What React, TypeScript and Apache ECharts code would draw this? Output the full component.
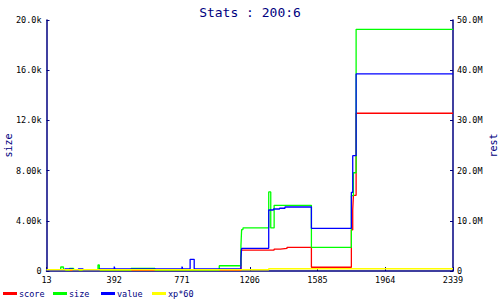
import React, { useEffect, useRef } from "react";
import * as echarts from "echarts";

// x positions are in tick-slot units (0..6); tick labels show the sample numbers
const xTickLabels = ["13", "392", "771", "1206", "1585", "1964", "2339"];
const leftTickLabels = ["0", "4.00k", "8.00k", "12.0k", "16.0k", "20.0k"];
const rightTickLabels = ["0", "10.0M", "20.0M", "30.0M", "40.0M", "50.0M"];

// size (left axis, units)
const sizeX = [0, 0.21, 0.25, 0.34, 0.40, 0.76, 0.78, 0.91, 0.96, 1.25, 1.60, 2.01, 2.28, 2.55, 2.87, 2.88, 2.90, 3.28, 3.31, 3.36, 3.91, 4.50, 4.53, 4.57, 6];
const sizeY = [80, 320, 80, 210, 80, 480, 80, 100, 80, 210, 80, 100, 80, 420, 2000, 3300, 3430, 6300, 3430, 5230, 1890, 6000, 7830, 19260, 19260];

// value (right axis, units)
const valueX = [0, 0.27, 0.39, 0.47, 0.54, 0.78, 1.0, 1.01, 2.0, 2.01, 2.12, 2.18, 2.87, 2.88, 3.28, 3.35, 3.44, 3.52, 3.91, 4.50, 4.52, 4.57, 6];
const valueY = [150000, 400000, 150000, 400000, 150000, 400000, 875000, 400000, 875000, 400000, 2325000, 400000, 2500000, 4525000, 12150000, 12350000, 12500000, 12750000, 8500000, 15675000, 22975000, 39250000, 39250000];

// score (right axis, units)
const scoreX = [0, 2.14, 2.18, 2.87, 3.36, 3.45, 3.55, 3.91, 4.50, 4.52, 4.53, 4.57, 6];
const scoreY = [150000, 250000, 150000, 4175000, 4375000, 4500000, 4725000, 750000, 8175000, 12150000, 15075000, 31425000, 31425000];

// xp*60 (right axis, units)
const xpX = [0, 3.28, 6];
const xpY = [250000, 450000, 450000];

const NAVY = "#000080";
const MONO = "'DejaVu Sans Mono', 'Liberation Mono', monospace";

const pairs = (xs: number[], ys: number[]) => xs.map((x, i) => [x, ys[i]]);

export default function App() {
  const ref = useRef<HTMLDivElement>(null);
  useEffect(() => {
    if (!ref.current) return;
    const chart = echarts.init(ref.current, undefined, { renderer: "svg" });
    const names = ["score", "size", "value", "xp*60"];
    const legendLefts = [3, 53, 101, 152];
    chart.setOption({
      animation: false,
      backgroundColor: "#ffffff",
      title: {
        text: "Stats : 200:6",
        left: "center",
        top: 1,
        textStyle: { color: NAVY, fontSize: 13, fontWeight: "normal", fontFamily: MONO },
      },
      legend: names.map((n, i) => ({
        data: [n],
        left: legendLefts[i],
        top: 289,
        padding: 0,
        itemWidth: 14,
        itemHeight: 3,
        icon: "rect",
        textStyle: { color: NAVY, fontSize: 8.5, fontFamily: MONO, padding: [0, 0, 0, -3] },
      })),
      grid: { left: 46.5, right: 47, top: 20, bottom: 29, containLabel: false, outerBoundsMode: "none" },
      xAxis: {
        type: "value",
        min: 0,
        max: 6,
        interval: 1,
        splitLine: { show: false },
        axisLine: { lineStyle: { color: NAVY, width: 1.5 } },
        axisTick: { inside: true, length: 4, lineStyle: { color: NAVY } },
        axisLabel: {
          color: "#000",
          fontSize: 8.5,
          fontFamily: MONO,
          margin: 4,
          showMinLabel: true,
          showMaxLabel: true,
          formatter: (v: number) => xTickLabels[Math.round(v)] ?? "",
        },
      },
      yAxis: [
        {
          type: "value",
          min: 0,
          max: 20000,
          interval: 4000,
          name: "size",
          nameLocation: "middle",
          nameGap: 33,
          nameMoveOverlap: false,
          nameTextStyle: { color: NAVY, fontSize: 10, fontFamily: MONO },
          splitLine: { show: false },
          axisLine: { show: true, lineStyle: { color: NAVY, width: 1.5 } },
          axisTick: { show: true, inside: true, length: 3, lineStyle: { color: NAVY } },
          axisLabel: {
            color: "#000",
            fontSize: 8.5,
            fontFamily: MONO,
            margin: 5,
            formatter: (v: number) => leftTickLabels[Math.round(v / 4000)] ?? "",
          },
        },
        {
          type: "value",
          min: 0,
          max: 50000000,
          interval: 10000000,
          position: "right",
          name: "rest",
          nameLocation: "middle",
          nameGap: 35,
          nameMoveOverlap: false,
          nameTextStyle: { color: NAVY, fontSize: 10, fontFamily: MONO },
          splitLine: { show: false },
          axisLine: { show: true, lineStyle: { color: NAVY, width: 1.5 } },
          axisTick: { show: true, inside: true, length: 3, lineStyle: { color: NAVY } },
          axisLabel: {
            color: "#000",
            fontSize: 8.5,
            fontFamily: MONO,
            margin: 4,
            formatter: (v: number) => rightTickLabels[Math.round(v / 10000000)] ?? "",
          },
        },
      ],
      series: [
        {
          name: "score",
          type: "line",
          yAxisIndex: 1,
          step: "end",
          showSymbol: false,
          color: "#ff0000",
          lineStyle: { width: 1.3, color: "#ff0000" },
          data: pairs(scoreX, scoreY),
        },
        {
          name: "size",
          type: "line",
          yAxisIndex: 0,
          step: "end",
          showSymbol: false,
          color: "#00ff00",
          lineStyle: { width: 1.3, color: "#00ff00" },
          data: pairs(sizeX, sizeY),
        },
        {
          name: "value",
          type: "line",
          yAxisIndex: 1,
          step: "end",
          showSymbol: false,
          color: "#0000ff",
          lineStyle: { width: 1.3, color: "#0000ff" },
          data: pairs(valueX, valueY),
        },
        {
          name: "xp*60",
          type: "line",
          yAxisIndex: 1,
          step: "end",
          showSymbol: false,
          color: "#ffff00",
          lineStyle: { width: 1.5, color: "#ffff00" },
          data: pairs(xpX, xpY),
        },
      ],
    });
    return () => chart.dispose();
  }, []);
  return <div ref={ref} style={{ width: 500, height: 300, position: "fixed", left: 0, top: 0 }} />;
}
